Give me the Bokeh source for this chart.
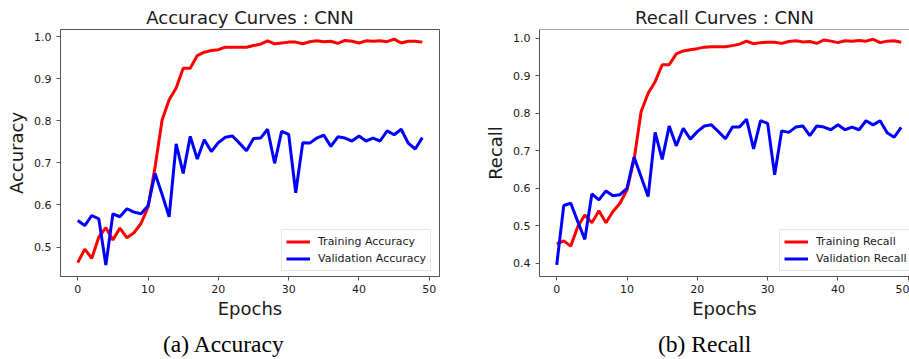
from bokeh.plotting import figure
from bokeh.models import (Range1d, FixedTicker, NumeralTickFormatter, Legend,
                          LegendItem, Span, Div)
from bokeh.layouts import row, column
from bokeh.embed import file_html
from bokeh.resources import INLINE

epochs = list(range(50))

train_acc = [0.463, 0.495, 0.473, 0.524, 0.546, 0.517, 0.545, 0.522, 0.534, 0.556,
             0.595, 0.690, 0.802, 0.850, 0.878, 0.925, 0.925, 0.955, 0.963, 0.967,
             0.969, 0.975, 0.975, 0.975, 0.975, 0.979, 0.982, 0.990, 0.983, 0.985,
             0.987, 0.987, 0.983, 0.988, 0.990, 0.988, 0.989, 0.984, 0.991, 0.989,
             0.985, 0.990, 0.989, 0.990, 0.988, 0.994, 0.985, 0.989, 0.989, 0.987]
val_acc = [0.563, 0.551, 0.575, 0.567, 0.457, 0.579, 0.572, 0.591, 0.583, 0.579,
           0.598, 0.675, 0.625, 0.572, 0.745, 0.675, 0.763, 0.709, 0.755, 0.727,
           0.748, 0.761, 0.764, 0.747, 0.729, 0.758, 0.759, 0.780, 0.699, 0.775,
           0.768, 0.629, 0.748, 0.747, 0.759, 0.766, 0.739, 0.762, 0.759, 0.752,
           0.764, 0.752, 0.759, 0.752, 0.776, 0.767, 0.780, 0.747, 0.733, 0.760]

train_rec = [0.452, 0.460, 0.446, 0.498, 0.529, 0.508, 0.540, 0.508, 0.538, 0.560,
             0.596, 0.676, 0.804, 0.853, 0.884, 0.929, 0.929, 0.958, 0.966, 0.969,
             0.972, 0.976, 0.977, 0.977, 0.977, 0.980, 0.984, 0.992, 0.985, 0.988,
             0.989, 0.989, 0.986, 0.991, 0.993, 0.990, 0.991, 0.986, 0.995, 0.992,
             0.988, 0.993, 0.992, 0.994, 0.992, 0.997, 0.988, 0.992, 0.993, 0.989]
val_rec = [0.396, 0.554, 0.560, 0.511, 0.464, 0.585, 0.569, 0.593, 0.580, 0.583,
           0.600, 0.683, 0.631, 0.578, 0.749, 0.677, 0.766, 0.713, 0.760, 0.731,
           0.751, 0.766, 0.769, 0.751, 0.732, 0.763, 0.763, 0.784, 0.705, 0.780,
           0.773, 0.636, 0.753, 0.749, 0.763, 0.766, 0.740, 0.766, 0.763, 0.756,
           0.769, 0.756, 0.763, 0.756, 0.780, 0.769, 0.780, 0.748, 0.736, 0.762]

x_ticks = [0, 10, 20, 30, 40, 50]
acc_ticks = [0.5, 0.6, 0.7, 0.8, 0.9, 1.0]
rec_ticks = [0.4, 0.5, 0.6, 0.7, 0.8, 0.9, 1.0]

FONT = "DejaVu Sans"
SPINE = "#555555"
TXT = "#1a1a1a"


def make_fig(title, ylabel, train, val, train_label, val_label, yticks,
             x_range, y_range, width, border_left, border_right,
             legend_x, clip_right):
    p = figure(width=width, height=331, output_backend="svg", toolbar_location=None,
               x_range=Range1d(*x_range), y_range=Range1d(*y_range),
               min_border_left=border_left, min_border_right=border_right,
               min_border_top=29, min_border_bottom=55)
    p.title.text = title
    p.title.align = "center"
    p.title.text_font = FONT
    p.title.text_font_size = "18px"
    p.title.text_font_style = "normal"
    p.title.text_color = TXT
    p.title.standoff = 3
    p.title.offset = 0
    p.grid.visible = False
    p.background_fill_color = "white"
    p.border_fill_color = "white"
    if clip_right:
        p.outline_line_color = None
        p.add_layout(Span(location=y_range[1], dimension="width",
                          line_color=SPINE, line_width=1))
    else:
        p.outline_line_color = SPINE
        p.outline_line_width = 1

    for ax in (p.xaxis[0], p.yaxis[0]):
        ax.axis_line_color = SPINE
        ax.major_tick_line_color = SPINE
        ax.major_tick_out = 4
        ax.major_tick_in = 0
        ax.minor_tick_line_color = None
        ax.major_label_text_font = FONT
        ax.major_label_text_font_size = "11px"
        ax.major_label_text_color = TXT
        ax.axis_label_text_font = FONT
        ax.axis_label_text_font_size = "18px"
        ax.axis_label_text_font_style = "normal"
        ax.axis_label_text_color = TXT

    p.xaxis.ticker = FixedTicker(ticks=x_ticks)
    p.xaxis.major_label_standoff = 4
    p.xaxis.axis_label = "Epochs"
    p.xaxis.axis_label_standoff = 2
    p.yaxis.ticker = FixedTicker(ticks=yticks)
    p.yaxis.formatter = NumeralTickFormatter(format="0.0")
    p.yaxis.major_label_standoff = 5
    p.yaxis.axis_label = ylabel
    p.yaxis.axis_label_standoff = 4

    r1 = p.line(epochs, train, line_color="#ff0000", line_width=3)
    r2 = p.line(epochs, val, line_color="#0000ff", line_width=3)

    legend = Legend(items=[LegendItem(label=train_label, renderers=[r1]),
                           LegendItem(label=val_label, renderers=[r2])],
                    location=(legend_x, 5), margin=0, padding=4, spacing=2,
                    glyph_width=24, glyph_height=15, label_height=15,
                    label_standoff=8, label_text_font=FONT,
                    label_text_font_size="11px", label_text_color=TXT,
                    border_line_color="#cccccc", border_line_width=1,
                    background_fill_color="white", background_fill_alpha=0.8)
    p.add_layout(legend)
    return p


def caption(text, width, left):
    html = ('<div style="padding-left:%dpx;padding-top:0px;'
            'font-family:\'Liberation Serif\';font-size:23.5px;line-height:26px;'
            'color:#000;white-space:nowrap">%s</div>' % (left, text))
    return Div(text=html, width=width, height=28, margin=0)


p1 = make_fig("Accuracy Curves : CNN", "Accuracy", train_acc, val_acc,
              "Training Accuracy", "Validation Accuracy", acc_ticks,
              (-2.45, 51.45), (0.430, 1.017), 460, 60, 21,
              221, False)
p2 = make_fig("Recall Curves : CNN", "Recall", train_rec, val_rec,
              "Training Recall", "Validation Recall", rec_ticks,
              (-2.45, 50.18), (0.365, 1.023), 449, 79, 0,
              240, True)

c1 = caption("(a) Accuracy", 460, 163)
c2 = caption("(b) Recall", 449, 198)

layout = row(column(p1, c1, spacing=0), column(p2, c2, spacing=0), spacing=0)
open("out.html", "w").write(file_html(layout, INLINE))
